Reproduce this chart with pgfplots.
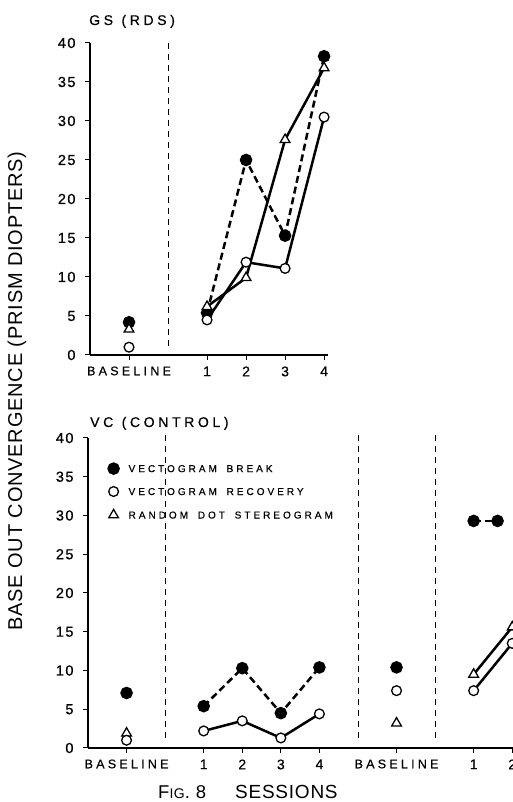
\documentclass[border=0pt]{standalone}
\usepackage{pgfplots}
\pgfplotsset{compat=1.18}
\usepackage{fontspec}
\setmainfont{Liberation Sans}
\newfontfamily\tickf[LetterSpace=10, FakeBold=0.6]{Liberation Sans}
\newfontfamily\wideA[LetterSpace=26, FakeBold=0.5]{Liberation Sans}
\newfontfamily\wideB[LetterSpace=30, FakeBold=0.6]{Liberation Sans}
\newfontfamily\labf[LetterSpace=4]{Liberation Sans}

\pgfplotsset{
  panel/.style={
    scale only axis,
    axis lines=left,
    axis line style={-, line width=1.3pt},
    tick style={black, line width=1pt},
    major tick length=5pt,
    tick align=outside,
    clip=false,
    ymin=0, ymax=40,
    ytick={0,5,...,40},
    /pgf/number format/assume math mode=true,
    yticklabel style={font={\fontsize{14.5}{14.5}\tickf}, xshift=-6pt},
    xticklabel style={font={\fontsize{14}{14}\tickf}, yshift=-3pt},
  },
  brk/.style={line width=2.5pt, dash pattern=on 7pt off 4pt, mark=*, mark size=5pt, mark options={solid, fill=black, draw=black}},
  rec/.style={line width=2.5pt, mark=*, mark size=4.9pt, mark options={solid, fill=white, draw=black, line width=1.3pt}},
  rds/.style={line width=2.5pt, mark=triangle*, mark size=5.6pt, mark options={solid, fill=white, draw=black, line width=1.3pt}},
  sep/.style={line width=0.9pt, dash pattern=on 6pt off 5pt, no marks},
}

\begin{document}
\begin{tikzpicture}
% ---------- top panel: GS (RDS)
\begin{axis}[panel,
  at={(90pt,447pt)}, anchor=south west,
  width=238pt, height=312pt,
  xmin=-1, xmax=5.1,
  xtick={0,2,3,4,5},
  xticklabels={{\fontsize{12.5}{12.5}\wideA BASELINE},1,2,3,4},
]
\addplot[sep, forget plot] coordinates {(1,1.2) (1,40)};
% baseline
\addplot[brk, only marks] coordinates {(0,4.2)};
\addplot[rds, only marks] coordinates {(0,3.3)};
\addplot[rec, only marks] coordinates {(0,1.0)};
% sessions
\addplot[brk] coordinates {(2,5.4) (3,25.0) (4,15.3) (5,38.3)};
\addplot[rec] coordinates {(2,4.5) (3,11.9) (4,11.1) (5,30.5)};
\addplot[rds] coordinates {(2,6.2) (3,9.9) (4,27.6) (5,36.8)};
\end{axis}

% ---------- bottom panel: VC (CONTROL)
\begin{axis}[panel,
  at={(88pt,54pt)}, anchor=south west,
  width=425pt, height=310pt,
  xmin=-1, xmax=10.02,
  xtick={0,2,3,4,5,7,9,10},
  xticklabels={{\fontsize{12.5}{12.5}\wideA BASELINE},1,2,3,4,{\fontsize{12.5}{12.5}\wideA BASELINE},1,2},
  legend image code/.code={\draw[#1] plot coordinates {(0pt,0pt)};},
  legend cell align=left,
  legend style={draw=none, fill=none, at={(0.048,0.918)}, anchor=north west,
    inner sep=0pt, row sep=13pt,
    nodes={inner sep=0pt, text height=7pt, text depth=0pt, font={\fontsize{10}{10}\wideB}},
    /tikz/every odd column/.style={column sep=10pt}},
]
\addlegendimage{brk, only marks}
\addlegendentry{VECTOGRAM\hspace{0.4em} BREAK}
\addlegendimage{rec, only marks}
\addlegendentry{VECTOGRAM\hspace{0.4em} RECOVERY}
\addlegendimage{rds, only marks}
\addlegendentry{RANDOM\hspace{0.4em} DOT\hspace{0.4em} STEREOGRAM}
\addplot[sep, forget plot] coordinates {(1,1.3) (1,40.4)};
\addplot[sep, forget plot] coordinates {(6,1.3) (6,40.4)};
\addplot[sep, forget plot] coordinates {(8,1.3) (8,40.4)};
% baseline 1
\addplot[brk, only marks, forget plot] coordinates {(0,7.1)};
\addplot[rds, only marks, forget plot] coordinates {(0,1.9)};
\addplot[rec, only marks, forget plot] coordinates {(0,1.0)};
% sessions 1-4
\addplot[brk, forget plot] coordinates {(2,5.4) (3,10.3) (4,4.5) (5,10.4)};
\addplot[rec, forget plot] coordinates {(2,2.2) (3,3.5) (4,1.3) (5,4.4)};
% baseline 2
\addplot[brk, only marks, forget plot] coordinates {(7,10.4)};
\addplot[rec, only marks, forget plot] coordinates {(7,7.4)};
\addplot[rds, only marks, forget plot] coordinates {(7,3.2)};
% sessions after
\addplot[brk, forget plot] coordinates {(9,29.3) (9.62,29.3)};
\addplot[rec, forget plot] coordinates {(9,7.4) (10,13.5)};
\addplot[rds, forget plot] coordinates {(9,9.5) (10,15.6)};
\end{axis}

% titles and labels
\node[anchor=base west, inner sep=0pt, font={\fontsize{14}{14}\wideA}] at (89pt,777pt) {GS\hspace{0.6em}(RDS)};
\node[anchor=base west, inner sep=0pt, font={\fontsize{14}{14}\wideA}] at (90pt,375pt) {VC\hspace{0.6em}(CONTROL)};
\node[rotate=90, inner sep=0pt, font={\fontsize{20}{20}\labf}] at (17pt,411pt) {BASE OUT CONVERGENCE (PRISM DIOPTERS)};
\node[anchor=base west, inner sep=0pt, font={\fontsize{18.5}{18.5}\labf}] at (158pt,4pt) {F{\fontsize{14}{14}\selectfont IG}. 8};
\node[anchor=base west, inner sep=0pt, font={\fontsize{19}{19}\labf}] at (235pt,4pt) {SESSIONS};

\pgfresetboundingbox
\path (0pt,0pt) rectangle (513pt,802pt);
\end{tikzpicture}
\end{document}
